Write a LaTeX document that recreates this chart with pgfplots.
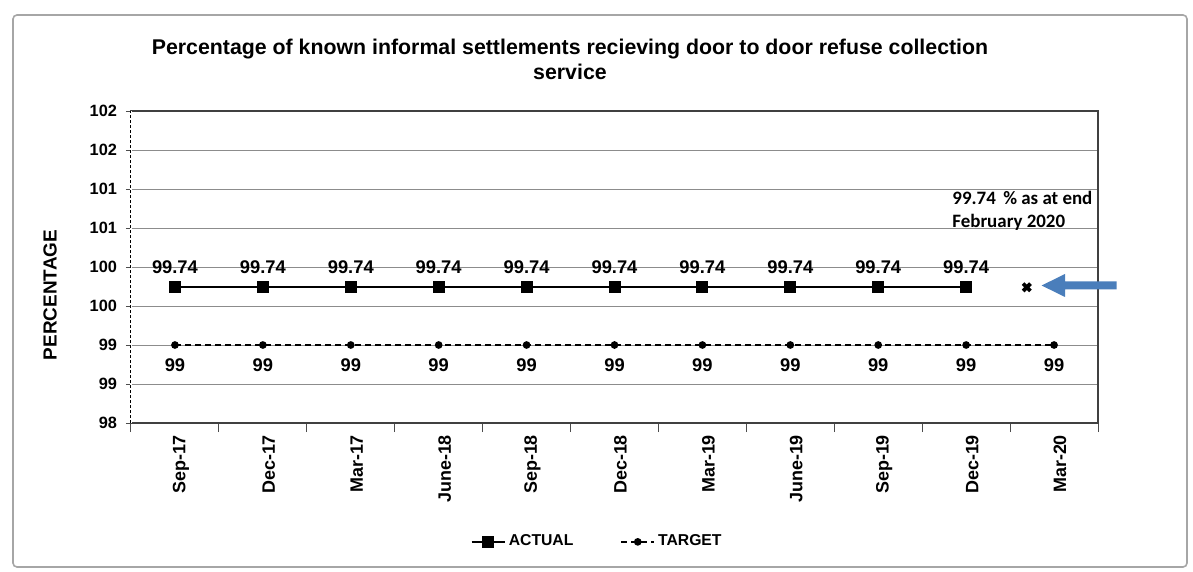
\documentclass[border=0pt]{standalone}
\usepackage{fontspec}
\setmainfont{Liberation Sans}
\newfontfamily\calibri{Carlito}
\usepackage{pgfplots}
\pgfplotsset{compat=1.18}
\definecolor{gridgray}{HTML}{8C8C8C}
\definecolor{arrowblue}{HTML}{4A7EBB}
\begin{document}
\begin{tikzpicture}
\useasboundingbox (-65.5bp,-74.5bp) rectangle (531bp,211.5bp);
% chart area frame
\draw[black!35, line width=0.8bp, rounded corners=2bp] (-59bp,-72bp) rectangle (528bp,204bp);
\begin{axis}[
  at={(0,0)}, anchor=south west,
  scale only axis, width=483.5bp, height=156bp,
  xmin=-0.5, xmax=10.5, ymin=98, ymax=102,
  clip=false,
  xtick={0,...,10},
  xticklabels={Sep-17,Dec-17,Mar-17,June-18,Sep-18,Dec-18,Mar-19,June-19,Sep-19,Dec-19,Mar-20},
  minor xtick={-0.5,0.5,...,10.5},
  ytick={98,98.5,...,102},
  yticklabels={98,99,99,100,100,101,101,102,102},
  xtick pos=bottom, ytick pos=left,
  ymajorgrids,
  major grid style={gridgray, line width=0.5bp},
  tick align=outside,
  major tick length=2.5bp,
  minor tick length=4.5bp,
  major x tick style={draw=none},
  minor x tick style={black!70, line width=0.5bp},
  ytick style={black!70, line width=0.5bp},
  axis line style={black!75, line width=0.6bp},
  xticklabel style={rotate=90, anchor=east, yshift=-3bp, font=\bfseries\fontsize{9}{10}\selectfont},
  yticklabel style={xshift=-1bp, font=\bfseries\fontsize{8.2}{10}\selectfont},
  /pgf/number format/assume math mode=true,
  legend columns=2,
  legend style={at={(0.4824,-0.381)}, anchor=center, draw=none, fill=none,
    font=\bfseries\fontsize{7.9}{10}\selectfont,
    nodes={inner sep=1.5bp},
    /tikz/every even column/.append style={column sep=22bp}},
  legend image code/.code={\draw[mark repeat=2,mark phase=2,#1] plot coordinates {(0bp,0bp) (8.25bp,0bp) (16.5bp,0bp)};},
]
\addplot[black, line width=1.2bp, mark=square*, mark size=2.4bp,
  nodes near coords,
  every node near coord/.append style={anchor=center, yshift=10bp, font=\bfseries\fontsize{9.2}{10}\selectfont}]
  coordinates {(0,99.74) (1,99.74) (2,99.74) (3,99.74) (4,99.74) (5,99.74) (6,99.74) (7,99.74) (8,99.74) (9,99.74)};
\addlegendentry{ACTUAL}
\addplot[black, line width=0.8bp, dash pattern=on 3bp off 2bp, mark=*, mark size=1.5bp, mark options={solid},
  nodes near coords,
  every node near coord/.append style={anchor=center, yshift=-10bp, font=\bfseries\fontsize{9.2}{10}\selectfont}]
  coordinates {(0,99) (1,99) (2,99) (3,99) (4,99) (5,99) (6,99) (7,99) (8,99) (9,99) (10,99)};
\addlegendentry{TARGET}
% latest reading, end February 2020
\addplot[black, only marks, mark=x, mark size=2.6bp, mark options={line width=1.9bp}, forget plot]
  coordinates {(9.69,99.74)};
% dashed value axis
\draw[white, line width=1bp] (rel axis cs:0,0) -- (rel axis cs:0,1);
\draw[black, line width=0.5bp, dash pattern=on 1.5bp off 1bp] (rel axis cs:0,0) -- (rel axis cs:0,1);
\end{axis}
% title
\node[font=\bfseries\fontsize{10.7}{12.5}\selectfont, align=center] at (219.5bp,181.75bp)
  {Percentage of known informal settlements recieving door to door refuse collection\\service};
% value axis title
\node[rotate=90, font=\bfseries\fontsize{9.5}{11}\selectfont] at (-40.5bp,64bp) {PERCENTAGE};
% note and arrow
\node[font=\calibri\bfseries\fontsize{9.5}{11.5}\selectfont, align=left, anchor=north west, inner sep=0] at (410.5bp,116bp)
  {99.74 \,\% as at end\\February 2020};
\fill[arrowblue] (455.3bp,68.75bp) -- (467bp,74.5bp) -- (467bp,70.75bp) -- (492.8bp,70.75bp)
  -- (492.8bp,66.75bp) -- (467bp,66.75bp) -- (467bp,63bp) -- cycle;
\end{tikzpicture}
\end{document}
